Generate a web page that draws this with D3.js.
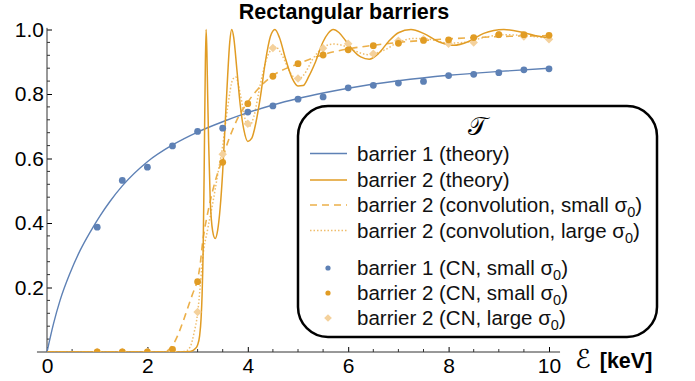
<!DOCTYPE html>
<html>
<head>
<meta charset="utf-8">
<script src="https://cdn.jsdelivr.net/npm/d3@7"></script>
<style>
  body { margin: 0; background: #fff; }
  svg text { font-family: "Liberation Sans", Arial, sans-serif; }
</style>
</head>
<body>
<svg width="695" height="381"></svg>
<script>
// CN runs (energy grid in keV)
var cnE = [1, 1.5, 2, 2.5, 3, 3.5, 4, 4.5, 5, 5.5, 6, 6.5, 7, 7.5, 8, 8.5, 9, 9.5, 10];
var cnBarrier1Small = [0.387, 0.532, 0.573, 0.639, 0.684, 0.694, 0.744, 0.763, 0.784, 0.791, 0.819, 0.827, 0.834, 0.839, 0.857, 0.861, 0.866, 0.875, 0.878];
var cnBarrier2Small = [0, 0, 0, 0.008, 0.218, 0.588, 0.77, 0.855, 0.894, 0.921, 0.937, 0.95, 0.957, 0.966, 0.968, 0.975, 0.984, 0.984, 0.982];
var cnBarrier2Large = [0, 0, 0, 0, 0.124, 0.613, 0.708, 0.943, 0.848, 0.942, 0.956, 0.925, 0.965, 0.97, 0.956, 0.96, 0.985, 0.978, 0.97];

// barrier 1, theory
var theory1E = [0, 0.13, 0.26, 0.46, 0.66, 0.86, 1.06, 1.25, 1.5, 2, 2.5, 3, 3.5, 4, 4.5, 5, 5.5, 6, 7, 8, 9, 10];
var theory1T = [0, 0.088, 0.16, 0.245, 0.315, 0.372, 0.423, 0.466, 0.515, 0.59, 0.642, 0.682, 0.714, 0.742, 0.766, 0.786, 0.803, 0.818, 0.841, 0.858, 0.87, 0.88];

// barrier 2, theory
var theory2E = [0, 2.5, 2.8, 2.9, 2.95, 3, 3.04, 3.07, 3.09, 3.11, 3.13, 3.14, 3.155, 3.17, 3.185, 3.2, 3.22, 3.25, 3.3, 3.35, 3.4, 3.45, 3.5, 3.55, 3.6, 3.64, 3.68, 3.72, 3.78, 3.85, 3.92, 4, 4.08, 4.16, 4.25, 4.35, 4.45, 4.54, 4.63, 4.75, 4.88, 5, 5.1, 5.22, 5.35, 5.5, 5.6, 5.7, 5.82, 5.95, 6.1, 6.25, 6.42, 6.6, 6.8, 7, 7.25, 7.5, 7.8, 8.1, 8.4, 8.7, 9.1, 9.5, 9.8, 10];
var theory2T = [0, 0, 0.001, 0.004, 0.01, 0.022, 0.05, 0.105, 0.18, 0.31, 0.55, 0.7, 0.9, 1, 0.93, 0.8, 0.65, 0.48, 0.375, 0.352, 0.378, 0.448, 0.56, 0.71, 0.86, 0.96, 1, 0.975, 0.88, 0.765, 0.69, 0.653, 0.663, 0.71, 0.79, 0.9, 0.978, 1, 0.975, 0.91, 0.85, 0.825, 0.826, 0.856, 0.9, 0.962, 0.988, 1, 0.99, 0.965, 0.935, 0.915, 0.908, 0.925, 0.962, 0.99, 1, 0.988, 0.962, 0.951, 0.963, 0.988, 1, 0.99, 0.979, 0.974];

// barrier 2, convolution with small sigma0
var convSmallE = [0, 2.3, 2.4, 2.5, 2.6, 2.7, 2.8, 2.9, 3, 3.05, 3.1, 3.15, 3.2, 3.3, 3.4, 3.5, 3.6, 3.7, 3.8, 4, 4.2, 4.5, 5, 5.5, 6, 6.5, 7, 7.5, 8, 8.5, 9, 9.5, 10];
var convSmallT = [0, 0, 0.004, 0.02, 0.05, 0.09, 0.135, 0.18, 0.225, 0.27, 0.34, 0.39, 0.43, 0.5, 0.555, 0.6, 0.65, 0.69, 0.725, 0.775, 0.815, 0.857, 0.893, 0.922, 0.94, 0.951, 0.96, 0.966, 0.971, 0.975, 0.978, 0.98, 0.981];

// barrier 2, convolution with large sigma0
var convLargeE = [0, 2.6, 2.75, 2.85, 2.93, 3, 3.05, 3.1, 3.2, 3.3, 3.4, 3.5, 3.6, 3.7, 3.76, 3.85, 3.95, 4.03, 4.12, 4.25, 4.4, 4.55, 4.7, 4.85, 5, 5.12, 5.3, 5.5, 5.7, 5.9, 6.1, 6.4, 6.7, 7, 7.3, 7.6, 8, 8.3, 8.7, 9.1, 9.5, 10];
var convLargeT = [0, 0, 0.002, 0.015, 0.06, 0.12, 0.2, 0.29, 0.38, 0.46, 0.55, 0.64, 0.76, 0.845, 0.853, 0.8, 0.72, 0.7, 0.73, 0.83, 0.92, 0.946, 0.915, 0.865, 0.845, 0.86, 0.91, 0.944, 0.955, 0.95, 0.936, 0.922, 0.935, 0.96, 0.972, 0.97, 0.958, 0.96, 0.975, 0.984, 0.981, 0.972];

var xMajor = [0, 2, 4, 6, 8, 10],
    yMajor = [0.2, 0.4, 0.6, 0.8, 1.0];

var legendLabels = [
  "barrier 1 (theory)",
  "barrier 2 (theory)",
  "barrier 2 (convolution, small σ_0)",
  "barrier 2 (convolution, large σ_0)",
  "barrier 1 (CN, small σ_0)",
  "barrier 2 (CN, small σ_0)",
  "barrier 2 (CN, large σ_0)"
];

var blue = "#5e81b5", orange = "#e19c24",
    dashCol = "#ecb04a", dotCol = "#efbd6c", diaCol = "#f4d19c";

var svg = d3.select("svg");

var x = d3.scaleLinear().domain([0, 10]).range([47, 549]),
    y = d3.scaleLinear().domain([0, 1]).range([352, 29.5]);

// points sitting on T = 0 are cut at the axis, as in the original
svg.append("clipPath").attr("id", "plotclip")
  .append("rect")
    .attr("x", 0).attr("y", 0)
    .attr("width", 695).attr("height", y(0));

// axes
var gx = svg.append("g")
    .attr("transform", "translate(0," + y(0) + ")")
    .call(d3.axisBottom(x).tickValues(xMajor).tickSize(-5).tickPadding(6).tickFormat(d3.format("d")));
gx.select(".domain").remove();
gx.selectAll("text").style("font-size", "21px").attr("fill", "#000");

gx.selectAll(".minor")
    .data(d3.range(0.5, 10.1, 0.5).filter(function(d) { return d % 2 !== 0; }))
  .enter().append("line")
    .attr("class", "minor")
    .attr("x1", function(d) { return x(d); })
    .attr("x2", function(d) { return x(d); })
    .attr("y1", 0).attr("y2", -3)
    .attr("stroke", "#333");

gx.append("line")
    .attr("x1", x(-0.2)).attr("x2", x(10.22))
    .attr("stroke", "#333");

var gy = svg.append("g")
    .attr("transform", "translate(" + x(0) + ",0)")
    .call(d3.axisLeft(y).tickValues(yMajor).tickSize(-5).tickPadding(3).tickFormat(d3.format(".1f")));
gy.select(".domain").remove();
gy.selectAll("text").style("font-size", "21px").attr("fill", "#000");

gy.selectAll(".minor")
    .data(d3.range(1, 25).map(function(i) { return i * 0.04; }).filter(function(d) { return Math.abs(d * 5 - Math.round(d * 5)) > 1e-6; }))
  .enter().append("line")
    .attr("class", "minor")
    .attr("y1", function(d) { return y(d); })
    .attr("y2", function(d) { return y(d); })
    .attr("x1", 0).attr("x2", 3)
    .attr("stroke", "#333");

gy.append("line")
    .attr("y1", y(0)).attr("y2", y(1.005))
    .attr("stroke", "#333");

// curves
var line = d3.line()
    .curve(d3.curveMonotoneX)
    .x(function(d) { return x(d[0]); })
    .y(function(d) { return y(d[1]); });

var curves = [
  {pts: d3.zip(convLargeE, convLargeT), color: dotCol, dash: "1.5,2", w: 1.5},
  {pts: d3.zip(convSmallE, convSmallT), color: dashCol, dash: "7,5", w: 1.6},
  {pts: d3.zip(theory1E, theory1T), color: blue, dash: null, w: 1.4},
  {pts: d3.zip(theory2E, theory2T), color: orange, dash: null, w: 1.5}
];

var plot = svg.append("g").attr("clip-path", "url(#plotclip)");

plot.selectAll(".curve")
    .data(curves)
  .enter().append("path")
    .attr("class", "curve")
    .attr("fill", "none")
    .attr("d", function(d) { return line(d.pts); })
    .attr("stroke", function(d) { return d.color; })
    .attr("stroke-width", function(d) { return d.w; })
    .attr("stroke-dasharray", function(d) { return d.dash; });

// points
var diamond = d3.symbol().type(d3.symbolSquare).size(36);

plot.selectAll(".dia")
    .data(d3.zip(cnE, cnBarrier2Large))
  .enter().append("path")
    .attr("class", "dia")
    .attr("d", diamond)
    .attr("transform", function(d) { return "translate(" + x(d[0]) + "," + y(d[1]) + ") rotate(45)"; })
    .attr("fill", diaCol);

plot.selectAll(".dot2")
    .data(d3.zip(cnE, cnBarrier2Small))
  .enter().append("circle")
    .attr("class", "dot2")
    .attr("cx", function(d) { return x(d[0]); })
    .attr("cy", function(d) { return y(d[1]); })
    .attr("r", 3.4)
    .attr("fill", orange);

plot.selectAll(".dot1")
    .data(d3.zip(cnE, cnBarrier1Small))
  .enter().append("circle")
    .attr("class", "dot1")
    .attr("cx", function(d) { return x(d[0]); })
    .attr("cy", function(d) { return y(d[1]); })
    .attr("r", 3.4)
    .attr("fill", blue);

// title and axis label
svg.append("text")
    .attr("x", 344).attr("y", 19)
    .attr("text-anchor", "middle")
    .style("font-size", "21.5px").style("font-weight", "bold")
    .text("Rectangular barriers");

var xl = svg.append("text").attr("x", 575).attr("y", 368);
xl.append("tspan").style("font-family", "'DejaVu Sans'").style("font-size", "26px").text("ℰ");
xl.append("tspan").attr("dx", 9).style("font-size", "21.5px").style("font-weight", "bold").text("[keV]");

// legend
var lg = svg.append("g").attr("transform", "translate(298,106)");
lg.append("rect")
    .attr("width", 359).attr("height", 231)
    .attr("rx", 30).attr("ry", 30)
    .attr("fill", "#fff")
    .attr("stroke", "#000").attr("stroke-width", 2.5);

lg.append("text")
    .attr("x", 179).attr("y", 29)
    .attr("text-anchor", "middle")
    .style("font-family", "'DejaVu Serif', 'DejaVu Sans'")
    .style("font-size", "25px")
    .text("𝒯");

var rowY = [47.5, 74, 99, 124.5, 162, 187, 212];

var rows = lg.selectAll(".row")
    .data(legendLabels)
  .enter().append("g")
    .attr("class", "row")
    .attr("transform", function(d, i) { return "translate(0," + rowY[i] + ")"; });

rows.each(function(d, i) {
  var r = d3.select(this);
  if (i < 4) {
    var c = curves[[2, 3, 1, 0][i]];
    r.append("line")
        .attr("x1", 12).attr("x2", 49)
        .attr("stroke", c.color)
        .attr("stroke-width", c.w)
        .attr("stroke-dasharray", c.dash);
  } else if (i < 6) {
    r.append("circle").attr("cx", 30).attr("r", 2.6).attr("fill", i === 4 ? blue : orange);
  } else {
    r.append("path").attr("d", d3.symbol().type(d3.symbolSquare).size(30)).attr("transform", "translate(30,0) rotate(45)").attr("fill", diaCol);
  }
  var parts = d.split("_0");
  var t = r.append("text").attr("x", 59).attr("y", 7).style("font-size", "20.5px").attr("fill", "#111");
  t.append("tspan").text(parts[0]);
  if (parts.length > 1) {
    t.append("tspan").attr("dy", 5).style("font-size", "14.5px").text("0");
    t.append("tspan").attr("dy", -5).text(parts[1]);
  }
});
</script>
</body>
</html>
